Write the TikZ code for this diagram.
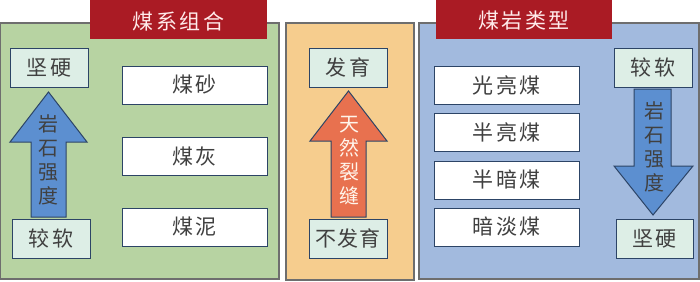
\documentclass[tikz,border=0pt]{standalone}
\usepackage{fontspec}
\newfontfamily\cjk{Noto Sans CJK SC}
\definecolor{pgreen}{HTML}{B7D3A2}
\definecolor{porange}{HTML}{F6CD8E}
\definecolor{pblue}{HTML}{A2BADE}
\definecolor{pframe}{HTML}{6E6E6E}
\definecolor{tred}{HTML}{AA1B24}
\definecolor{lmint}{HTML}{DDEEE6}
\definecolor{navy}{HTML}{2C4466}
\definecolor{ablue}{HTML}{5C8FD0}
\definecolor{acoral}{HTML}{E8714F}
\definecolor{txt}{HTML}{404040}
\tikzset{
  panel/.style={draw=pframe, line width=1.2pt},
  titlebox/.style={fill=tred, draw=none},
  titletext/.style={text=white!92!red, font=\cjk\fontsize{21}{21}\selectfont},
  whitebox/.style={fill=white, draw=navy, line width=1pt},
  mintbox/.style={fill=lmint, draw=navy, line width=1pt},
  boxtext/.style={text=txt, font=\cjk\fontsize{21}{21}\selectfont},
  arrowtext/.style={font=\cjk\fontsize{20}{24}\selectfont, align=center},
  bigarrow/.style={draw=navy, line width=1pt, line join=miter}
}
\newcommand{\ks}{\kern2.5pt}
\newcommand{\kw}{\kern3pt}
\begin{document}
\begin{tikzpicture}[x=1pt,y=-1pt]
\useasboundingbox (0,0) rectangle (700,281);
% panels
\draw[panel, fill=pgreen] (0.6,23) rectangle (279,279) ;
\draw[panel, fill=porange] (286,23) rectangle (414,280);
\draw[panel, fill=pblue] (419,23) rectangle (699,279);
% titles
\fill[titlebox] (90,0) rectangle (267,39);
\node[titletext] (t1) at (178.5,21) {煤\ks 系\ks 组\ks 合};
\fill[titlebox] (436,0) rectangle (612,39);
\node[titletext] (t2) at (524,21) {煤\ks 岩\ks 类\ks 型};
% left panel
\draw[mintbox] (10,48) rectangle (88,87);
\node[boxtext] (l1) at (49,67.5) {坚\kw 硬};
\draw[mintbox] (12,219) rectangle (90,258);
\node[boxtext] (l2) at (51,238.5) {较\kw 软};
\draw[bigarrow, fill=ablue] (31,217) -- (31,142) -- (10,142) -- (48.5,92) -- (87,142) -- (66,142) -- (66,217) -- cycle;
\node[arrowtext, text=txt] (la) at (48.5,160) {岩\\石\\强\\度};
\foreach \y/\t/\n in {66/煤\kw 砂/w1, 137/煤\kw 灰/w2, 208/煤\kw 泥/w3}{
  \draw[whitebox] (122,\y) rectangle (267,\y+38);
  \node[boxtext] (\n) at (194.5,\y+19) {\t};
}
% middle panel
\draw[mintbox] (309,48) rectangle (387,87);
\node[boxtext] (m1) at (348,67.5) {发\kw 育};
\draw[mintbox] (309,219) rectangle (387,258);
\node[boxtext] (m2) at (348,238.5) {不\kern1pt 发\kern1pt 育};
\draw[bigarrow, fill=acoral] (331,217) -- (331,141) -- (310,141) -- (348.5,91) -- (387,141) -- (366,141) -- (366,217) -- cycle;
\node[arrowtext, text=white!92!orange] (ma) at (349,161) {天\\然\\裂\\缝};
% right panel
\foreach \y/\t/\n in {66/光\ks 亮\ks 煤/r1, 113/半\ks 亮\ks 煤/r2, 161/半\ks 暗\ks 煤/r3, 208/暗\ks 淡\ks 煤/r4}{
  \draw[whitebox] (434,\y) rectangle (579,\y+38);
  \node[boxtext] (\n) at (506.5,\y+19) {\t};
}
\draw[mintbox] (614,48) rectangle (692,87);
\node[boxtext] (r5) at (653,67.5) {较\kw 软};
\draw[mintbox] (616,219) rectangle (693,258);
\node[boxtext] (r6) at (654.5,238.5) {坚\kw 硬};
\draw[bigarrow, fill=ablue] (634,89) -- (671,89) -- (671,166) -- (693,166) -- (653,215) -- (614,166) -- (634,166) -- cycle;
\node[arrowtext, text=txt] (ra) at (654,147) {岩\\石\\强\\度};
\end{tikzpicture}
\end{document}
